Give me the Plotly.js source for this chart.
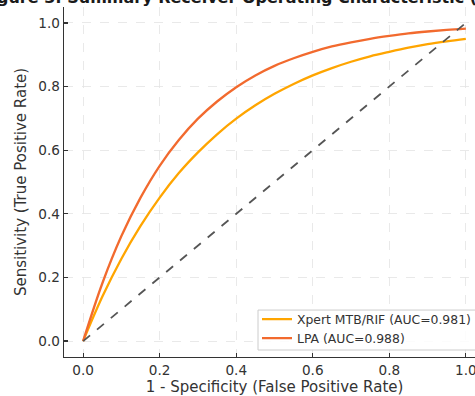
<!DOCTYPE html>
<html>
<head>
<meta charset="utf-8">
<script src="https://cdn.plot.ly/plotly-3.0.1.min.js"></script>
<style>html,body{margin:0;padding:0;background:#fff;overflow:hidden;}#chart{width:485px;height:396px;}</style>
</head>
<body>
<div id="chart"></div>
<script>
// False positive rate (1 - specificity) sample points
const fpr = [0, 0.05, 0.10, 0.15, 0.20, 0.25, 0.30, 0.35, 0.40, 0.45, 0.50,
             0.55, 0.60, 0.65, 0.70, 0.75, 0.80, 0.85, 0.90, 0.95, 1.00];
// Sensitivity
const xpertTpr = [0, 0.139, 0.259, 0.362, 0.451, 0.528, 0.593, 0.650, 0.699, 0.741, 0.777,
                  0.808, 0.835, 0.858, 0.878, 0.895, 0.909, 0.922, 0.933, 0.942, 0.950];
const lpaTpr = [0, 0.181, 0.330, 0.451, 0.551, 0.632, 0.699, 0.753, 0.798, 0.835, 0.865,
                0.889, 0.909, 0.926, 0.939, 0.950, 0.959, 0.967, 0.973, 0.978, 0.982];
const chanceX = [0, 1];
const chanceY = [0, 1];
const seriesNames = ["Xpert MTB/RIF (AUC=0.981)", "LPA (AUC=0.988)"];
const tickVals = [0, 0.2, 0.4, 0.6, 0.8, 1.0];
const tickText = ["0.0", "0.2", "0.4", "0.6", "0.8", "1.0"];

const FONT = "DejaVu Sans, Verdana, sans-serif";
// the figure is a little wider than the 475px window; its right edge is cropped like the original
const W = 485, H = 396;
const L = 64, R = 0, T = 6.6, B = 39;
const PW = W - L - R, PH = H - T - B;

const traces = [
  {x: fpr, y: xpertTpr, name: seriesNames[0], mode: "lines",
   line: {color: "#FFA500", width: 2.3, shape: "spline"}},
  {x: fpr, y: lpaTpr, name: seriesNames[1], mode: "lines",
   line: {color: "#F26A2E", width: 2.3, shape: "spline"}},
  {x: chanceX, y: chanceY, mode: "lines", showlegend: false, hoverinfo: "skip",
   line: {color: "#555555", width: 1.8, dash: "dash"}}
];

const axisCommon = {
  showline: true, linecolor: "#333", linewidth: 1.3, mirror: false,
  ticks: "inside", ticklen: 4, tickwidth: 1.2, tickcolor: "#333",
  showgrid: true, gridcolor: "#e3e3e3", gridwidth: 0.8, griddash: "dash",
  zeroline: false, tickvals: tickVals, ticktext: tickText,
  tickfont: {family: FONT, size: 13.6, color: "#333"}
};

// legend frame (rounded box), in paper coordinates
const fx0 = (258 - L) / PW, fx1 = 1.05;
const fy0 = (H - B - 350) / PH, fy1 = (H - B - 310) / PH;

const layout = {
  width: W, height: H,
  margin: {l: L, r: R, t: T, b: B, pad: 0},
  paper_bgcolor: "#fff", plot_bgcolor: "#fff",
  font: {family: FONT, color: "#333"},
  title: {
    text: "Figure 3: Summary Receiver Operating Characteristic (SROC) Curve",
    font: {family: FONT, size: 16, weight: "bold", color: "#1a1a1a"},
    xref: "container", x: 286 / W, xanchor: "center",
    yref: "container", y: 1 - 2.5 / H, yanchor: "bottom"
  },
  xaxis: Object.assign({}, axisCommon, {
    range: [-0.05, 1.05],
    title: {text: "1 - Specificity (False Positive Rate)", font: {family: FONT, size: 15, color: "#333"}, standoff: 6}
  }),
  yaxis: Object.assign({}, axisCommon, {
    range: [-0.05, 1.05],
    title: {text: "Sensitivity (True Positive Rate)", font: {family: FONT, size: 15, color: "#333"}, standoff: 8}
  }),
  shapes: [{
    type: "rect", xref: "paper", yref: "paper", layer: "above",
    x0: fx0, x1: fx1, y0: fy0, y1: fy1,
    line: {color: "#cccccc", width: 1}, fillcolor: "rgba(255,255,255,0.85)"
  }],
  showlegend: true,
  legend: {
    x: (257 - L) / PW, xanchor: "left",
    y: 0.01, yanchor: "bottom",
    bgcolor: "rgba(0,0,0,0)", borderwidth: 0,
    font: {family: FONT, size: 12.4, color: "#333"}
  }
};

Plotly.newPlot("chart", traces, layout, {displayModeBar: false, staticPlot: true});
</script>
</body>
</html>
